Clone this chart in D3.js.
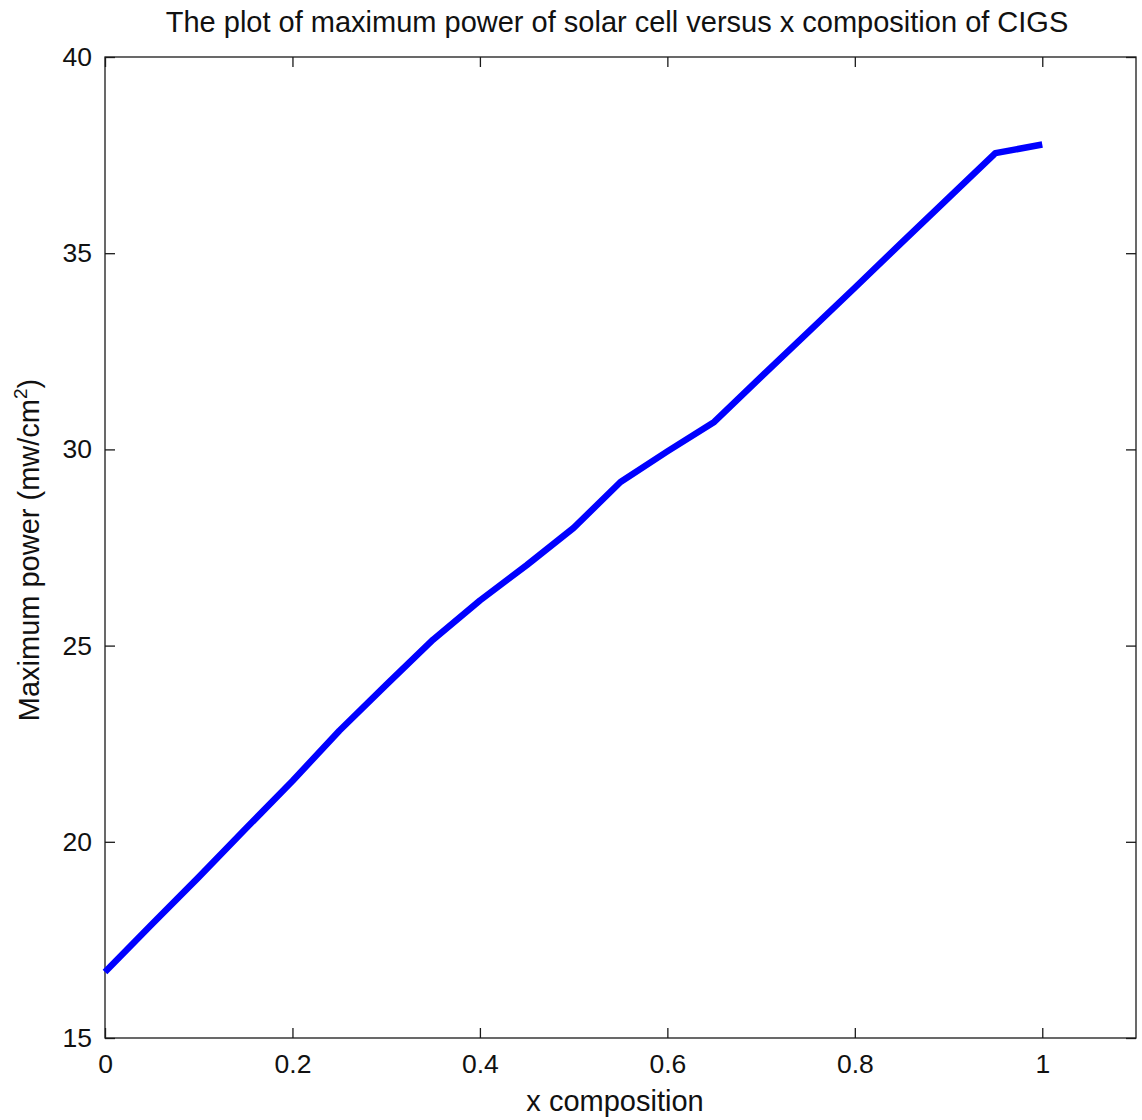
<!DOCTYPE html>
<html>
<head>
<meta charset="utf-8">
<script src="https://cdn.jsdelivr.net/npm/d3@7"></script>
<style>
  html, body { margin: 0; padding: 0; background: #fff; }
  svg { display: block; font-family: "Liberation Sans", Arial, sans-serif; }
</style>
</head>
<body>
<svg id="chart" width="1142" height="1120"></svg>
<script>
const xComposition = [0, 0.05, 0.1, 0.15, 0.2, 0.25, 0.3, 0.35, 0.4, 0.45, 0.5, 0.55, 0.6, 0.65, 0.7, 0.75, 0.8, 0.85, 0.9, 0.95, 1.0];
const maxPower = [16.68, 17.9, 19.1, 20.33, 21.55, 22.83, 24.0, 25.15, 26.15, 27.05, 28.0, 29.17, 29.95, 30.7, 31.85, 32.98, 34.12, 35.27, 36.41, 37.55, 37.77];
const xTicks = [0, 0.2, 0.4, 0.6, 0.8, 1];
const yTicks = [15, 20, 25, 30, 35, 40];
const titleText = "The plot of maximum power of solar cell versus x composition of CIGS";
const xLabelText = "x composition";

const svg = d3.select("#chart");
const L = 105, R = 1136, T = 57, B = 1038;
const x = d3.scaleLinear().domain([0, 1.1]).range([L, R]);
const y = d3.scaleLinear().domain([15, 40]).range([B, T]);
const fs = 26.5, lfs = 29;
const axisColor = "#1a1a1a";

svg.append("rect").attr("x", L).attr("y", T).attr("width", R - L).attr("height", B - T)
  .attr("fill", "#fff").attr("stroke", axisColor).attr("stroke-width", 1.3);

const tl = 10;
const fmt = d => d3.format("")(d);
const xb = svg.append("g").attr("transform", `translate(0,${B})`)
  .call(d3.axisBottom(x).tickValues(xTicks).tickSize(-tl).tickPadding(tl + 6).tickFormat(fmt));
const xt = svg.append("g").attr("transform", `translate(0,${T})`)
  .call(d3.axisTop(x).tickValues(xTicks).tickSize(-tl).tickFormat(""));
const yl = svg.append("g").attr("transform", `translate(${L},0)`)
  .call(d3.axisLeft(y).tickValues(yTicks).tickSize(-tl).tickPadding(tl + 3).tickFormat(fmt));
const yr = svg.append("g").attr("transform", `translate(${R},0)`)
  .call(d3.axisRight(y).tickValues(yTicks).tickSize(-tl).tickFormat(""));
[xb, xt, yl, yr].forEach(g => {
  g.select(".domain").remove();
  g.selectAll(".tick line").attr("stroke", axisColor).attr("stroke-width", 1.3);
  g.selectAll("text").attr("font-size", fs).attr("fill", "#111")
    .attr("font-family", "'Liberation Sans', Arial, sans-serif");
});
xb.selectAll("text").attr("dy", "0.71em");

const line = d3.line().x((d, i) => x(xComposition[i])).y(d => y(d));
svg.append("path").datum(maxPower).attr("d", line)
  .attr("fill", "none").attr("stroke", "#0000ff").attr("stroke-width", 6.5)
  .attr("stroke-linejoin", "round");

svg.append("text").attr("x", 617).attr("y", 32).attr("text-anchor", "middle")
  .attr("font-size", lfs).attr("fill", "#111").text(titleText);

svg.append("text").attr("x", 615).attr("y", 1111).attr("text-anchor", "middle")
  .attr("font-size", lfs).attr("fill", "#111").text(xLabelText);

const yl2 = svg.append("text").attr("transform", "translate(39,550) rotate(-90)")
  .attr("text-anchor", "middle").attr("font-size", lfs).attr("fill", "#111");
yl2.append("tspan").text("Maximum power (mw/cm");
yl2.append("tspan").attr("font-size", 19).attr("dy", -12).text("2");
yl2.append("tspan").attr("dy", 12).text(")");
</script>
</body>
</html>
